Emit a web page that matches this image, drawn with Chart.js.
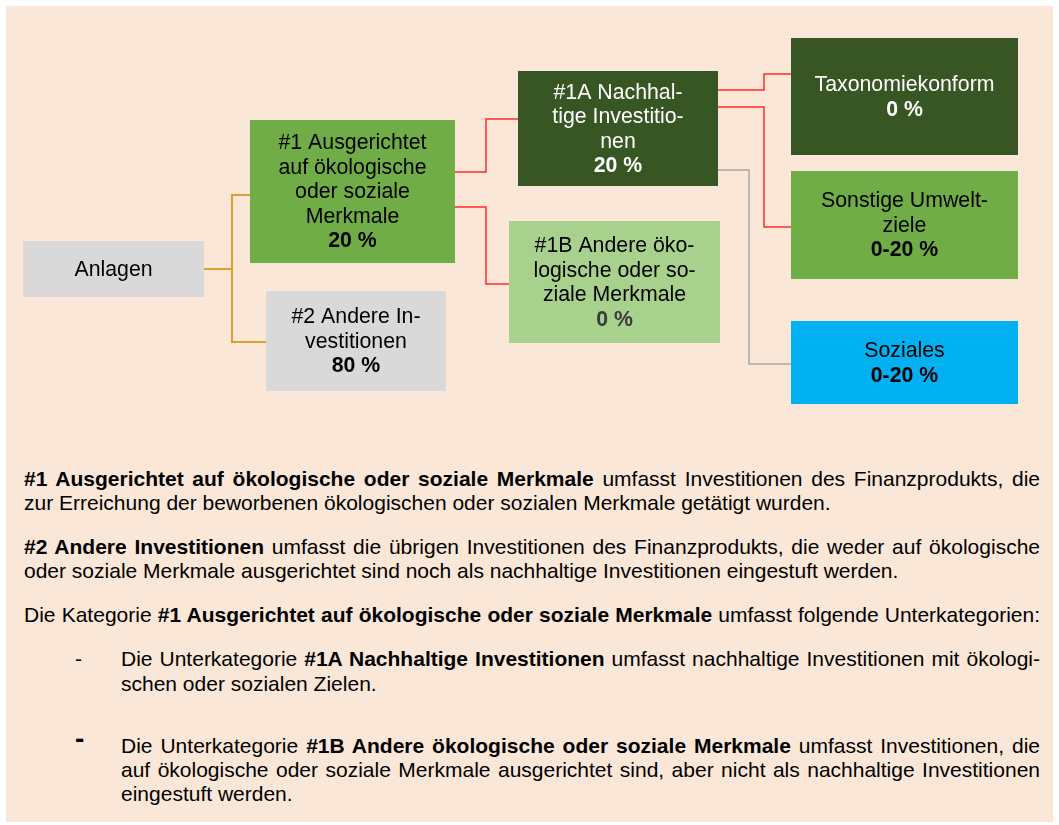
<!DOCTYPE html>
<html>
<head>
<meta charset="utf-8">
<script src="https://cdn.jsdelivr.net/npm/chart.js@4"></script>
<style>
  body { margin: 0; background: #ffffff; font-family: "Liberation Sans", Arial, sans-serif; }
  #page { position: relative; width: 1059px; height: 825px; overflow: hidden; }
  #paper { position: absolute; left: 6px; top: 6px; width: 1047px; height: 816px; background: #fae7d7; }
  #tree { position: absolute; left: 0; top: 0; }
  .ln { position: absolute; height: 24px; line-height: 24px; font-size: 21px; color: #000;
        white-space: nowrap; text-align: justify; text-align-last: justify; }
  .ln.last { text-align-last: left; }
  .main { left: 24px; width: 1016px; }
  .sub { left: 121px; width: 919px; }
  .dash { position: absolute; left: 75px; font-size: 21px; line-height: 24px; }
</style>
</head>
<body>
<div id="page">
  <div id="paper"></div>
  <canvas id="tree" width="1059" height="420"></canvas>

  <div class="ln main" style="top:467px"><b>#1 Ausgerichtet auf ökologische oder soziale Merkmale</b> umfasst Investitionen des Finanzprodukts, die</div>
  <div class="ln main last" style="top:491px">zur Erreichung der beworbenen ökologischen oder sozialen Merkmale getätigt wurden.</div>

  <div class="ln main" style="top:535px"><b>#2 Andere Investitionen</b> umfasst die übrigen Investitionen des Finanzprodukts, die weder auf ökologische</div>
  <div class="ln main last" style="top:559px">oder soziale Merkmale ausgerichtet sind noch als nachhaltige Investitionen eingestuft werden.</div>

  <div class="ln main" style="top:603px">Die Kategorie <b>#1 Ausgerichtet auf ökologische oder soziale Merkmale</b> umfasst folgende Unterkategorien:</div>

  <div class="dash" style="top:647px">-</div>
  <div class="ln sub" style="top:647px">Die Unterkategorie <b>#1A Nachhaltige Investitionen</b> umfasst nachhaltige Investitionen mit ökologi-</div>
  <div class="ln sub last" style="top:672px">schen oder sozialen Zielen.</div>

  <div class="dash" style="top:727px;font-size:28px;font-weight:bold">-</div>
  <div class="ln sub" style="top:734px">Die Unterkategorie <b>#1B Andere ökologische oder soziale Merkmale</b> umfasst Investitionen, die</div>
  <div class="ln sub" style="top:758px">auf ökologische oder soziale Merkmale ausgerichtet sind, aber nicht als nachhaltige Investitionen</div>
  <div class="ln sub last" style="top:782px">eingestuft werden.</div>
</div>

<script>
// tree content
const nodeLabels = [
  ["Anlagen"],
  ["#1 Ausgerichtet", "auf ökologische", "oder soziale", "Merkmale"],
  ["#2 Andere In-", "vestitionen"],
  ["#1A Nachhal-", "tige Investitio-", "nen"],
  ["#1B Andere öko-", "logische oder so-", "ziale Merkmale"],
  ["Taxonomiekonform"],
  ["Sonstige Umwelt-", "ziele"],
  ["Soziales"]
];
const nodeShares = ["", "20 %", "80 %", "20 %", "0 %", "0 %", "0-20 %", "0-20 %"];
const nodeParents = [-1, 0, 0, 1, 1, 3, 3, 3];

// layout (diagram units = canvas px)
const boxes = [
  [23, 241, 204, 297],
  [250, 120, 455, 263],
  [266, 291, 446, 391],
  [518, 71, 718, 186],
  [509, 221, 720, 343],
  [791, 38, 1018, 155],
  [791, 171, 1018, 279],
  [791, 321, 1018, 404]
];
const boxColors = ["#d9d9d9", "#70ad47", "#d9d9d9", "#375623", "#a9d18e", "#375623", "#70ad47", "#00b0f0"];
const textColors = ["#000", "#000", "#000", "#fff", "#000", "#fff", "#000", "#000"];
const shareColors = ["#000", "#000", "#000", "#fff", "#3a3a3a", "#fff", "#000", "#000"];
// per child: start y on parent, elbow x, end y on child, colour
const links = {
  1: [269, 232, 195, "#d6a22c"],
  2: [269, 232, 342, "#d6a22c"],
  3: [172, 486, 119, "#ff2d2d"],
  4: [207, 486, 284, "#ff2d2d"],
  5: [90, 764, 74, "#ff2d2d"],
  6: [107, 764, 227, "#ff2d2d"],
  7: [170, 749, 364, "#a8a8a8"]
};

const FONT = '"Liberation Sans", Arial, sans-serif';
const LINE_H = 24.5;

const treePlugin = {
  id: "tree",
  afterDatasetsDraw(chart) {
    const ctx = chart.ctx;
    const x = chart.scales.x, y = chart.scales.y;
    const px = v => x.getPixelForValue(v);
    const py = v => y.getPixelForValue(v);
    ctx.save();

    // connectors
    nodeParents.forEach((p, i) => {
      if (p < 0) return;
      const l = links[i];
      ctx.strokeStyle = l[3];
      ctx.lineWidth = i < 3 ? 2 : 1.5;
      ctx.beginPath();
      ctx.moveTo(px(boxes[p][2]), py(l[0]));
      ctx.lineTo(px(l[1]), py(l[0]));
      ctx.lineTo(px(l[1]), py(l[2]));
      ctx.lineTo(px(boxes[i][0]), py(l[2]));
      ctx.stroke();
    });

    // boxes + labels
    ctx.textAlign = "center";
    ctx.textBaseline = "middle";
    boxes.forEach((b, i) => {
      const x0 = px(b[0]), x1 = px(b[2]), y0 = py(b[1]), y1 = py(b[3]);
      ctx.fillStyle = boxColors[i];
      ctx.fillRect(x0, y0, x1 - x0, y1 - y0);

      const lines = nodeLabels[i].slice();
      if (nodeShares[i]) lines.push(nodeShares[i]);
      const cx = (x0 + x1) / 2;
      const top = (y0 + y1) / 2 - (lines.length - 1) * LINE_H / 2 + 1;
      lines.forEach((t, k) => {
        const isShare = nodeShares[i] && k === lines.length - 1;
        ctx.font = (isShare ? "bold " : "") + "21.3px " + FONT;
        ctx.fillStyle = isShare ? shareColors[i] : textColors[i];
        ctx.fillText(t, cx, top + k * LINE_H);
      });
    });
    ctx.restore();
  }
};

new Chart(document.getElementById("tree").getContext("2d"), {
  type: "scatter",
  data: {
    datasets: [{
      data: boxes.map(b => ({ x: (b[0] + b[2]) / 2, y: (b[1] + b[3]) / 2 })),
      pointRadius: 0,
      pointHoverRadius: 0
    }]
  },
  options: {
    responsive: false,
    animation: false,
    events: [],
    layout: { padding: 0 },
    scales: {
      x: { type: "linear", min: 0, max: 1059, display: false },
      y: { type: "linear", min: 0, max: 420, reverse: true, display: false }
    },
    plugins: { legend: { display: false }, tooltip: { enabled: false } }
  },
  plugins: [treePlugin]
});
</script>
</body>
</html>
